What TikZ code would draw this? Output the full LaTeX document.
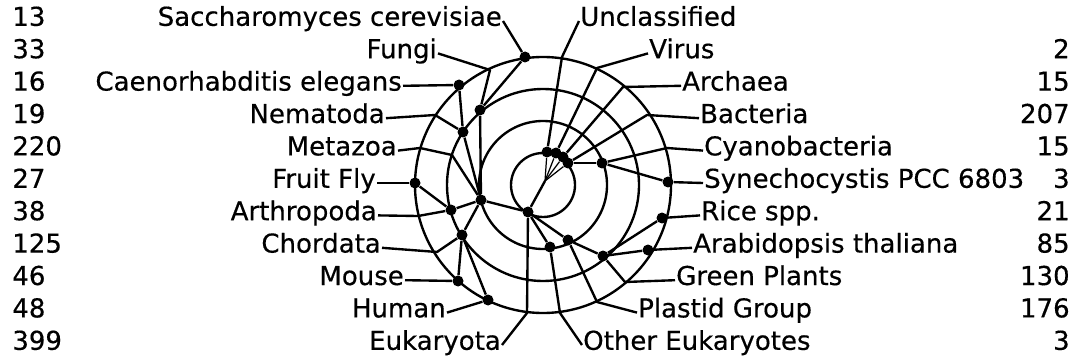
\documentclass[tikz,border=0pt]{standalone}
\usepackage{fontspec}
\setmainfont{DejaVu Sans}[FakeBold=0.4]
\usetikzlibrary{positioning,calc}

\begin{document}
\begin{tikzpicture}[
    x=0.02cm, y=-0.02cm,
    ring/.style={line width=1.35pt},
    link/.style={line width=1.35pt, line join=round},
    fan/.style={line width=0.7pt},
    taxon/.style={circle, fill, inner sep=0pt, minimum size=0.22cm},
    lbl/.style={inner sep=0.5pt, font=\fontsize{14.8}{16}\selectfont},
    cnt/.style={inner sep=0pt, font=\fontsize{14.8}{16}\selectfont}
  ]
  \useasboundingbox[fill=white] (0,0) rectangle (1077,361);

  % rings around the root
  \coordinate (C) at (543,185);
  \foreach \r in {32,64,96,128}
    \draw[ring] (C) circle[radius=\r];

  % taxa
  \coordinate (root) at (545,181);
  \node[taxon] (unc) at (547,152) {};
  \node[taxon] (vir) at (556,153) {};
  \node[taxon] (arc) at (563,157) {};
  \node[taxon] (bac) at (568,163) {};
  \node[taxon] (euk) at (528,212) {};
  \node[taxon] (met) at (481,200) {};
  \node[taxon] (oth) at (550,247) {};
  \node[taxon] (pla) at (568,240) {};
  \node[taxon] (fun) at (480,110) {};
  \node[taxon] (nem) at (463,132) {};
  \node[taxon] (art) at (451,210) {};
  \node[taxon] (cho) at (462,235) {};
  \node[taxon] (sac) at (525,57) {};
  \node[taxon] (ele) at (459,85) {};
  \node[taxon] (fly) at (415,183) {};
  \node[taxon] (mou) at (458,281) {};
  \node[taxon] (hum) at (488,300) {};
  \node[taxon] (cya) at (602,163) {};
  \node[taxon] (syn) at (668,182) {};
  \node[taxon] (gre) at (603,256) {};
  \node[taxon] (ric) at (662,218) {};
  \node[taxon] (ara) at (648,250) {};

  % names, left column
  \node[lbl, anchor=mid east] (lsac) at (503,21) {Saccharomyces cerevisiae};
  \node[lbl, anchor=mid east] (lfun) at (438,53.4) {Fungi};
  \node[lbl, anchor=mid east] (lele) at (403,85.8) {Caenorhabditis elegans};
  \node[lbl, anchor=mid east] (lnem) at (386,118.2) {Nematoda};
  \node[lbl, anchor=mid east] (lmet) at (398,150.6) {Metazoa};
  \node[lbl, anchor=mid east] (lfly) at (377,183) {Fruit Fly};
  \node[lbl, anchor=mid east] (lart) at (378,215.4) {Arthropoda};
  \node[lbl, anchor=mid east] (lcho) at (382,247.8) {Chordata};
  \node[lbl, anchor=mid east] (lmou) at (405,280.2) {Mouse};
  \node[lbl, anchor=mid east] (lhum) at (447,312.6) {Human};
  \node[lbl, anchor=mid east] (leuk) at (502,345) {Eukaryota};

  % names, right column
  \node[lbl, anchor=mid west] (lunc) at (579,21) {Unclassified};
  \node[lbl, anchor=mid west] (lvir) at (648,53.4) {Virus};
  \node[lbl, anchor=mid west] (larc) at (681,85.8) {Archaea};
  \node[lbl, anchor=mid west] (lbac) at (699,118.2) {Bacteria};
  \node[lbl, anchor=mid west] (lcya) at (703,150.6) {Cyanobacteria};
  \node[lbl, anchor=mid west] (lsyn) at (703,183) {Synechocystis PCC 6803};
  \node[lbl, anchor=mid west] (lric) at (700,215.4) {Rice spp.};
  \node[lbl, anchor=mid west] (lara) at (692,247.8) {Arabidopsis thaliana};
  \node[lbl, anchor=mid west] (lgre) at (675,280.2) {Green Plants};
  \node[lbl, anchor=mid west] (lpla) at (637,312.6) {Plastid Group};
  \node[lbl, anchor=mid west] (loth) at (582,345) {Other Eukaryotes};

  % counts
  \foreach \n [count=\i] in {13,33,16,19,220,27,38,125,46,48,399}
    \node[cnt, anchor=mid west] (cl\i) at (12,{21+32.4*(\i-1)}) {\n};
  \foreach \n [count=\i from 2] in {2,15,207,15,3,21,85,130,176,3}
    \node[cnt, anchor=mid east] (cr\i) at (1070,{21+32.4*(\i-1)}) {\n};

  % tree edges
  \draw[fan] (root) -- (unc);
  \draw[fan] (root) -- (vir);
  \draw[fan] (root) -- (arc);
  \draw[fan] (root) -- (bac);
  \draw[link] (root) -- (euk);
  \draw[link] (euk) -- (met);
  \draw[link] (euk) -- (oth);
  \draw[link] (euk) -- (pla);
  \draw[link] (met) -- (fun);
  \draw[link] (met) -- (nem);
  \draw[link] (met) -- (art);
  \draw[link] (met) -- (cho);
  \draw[link] (fun) -- (sac);
  \draw[link] (nem) -- (ele);
  \draw[link] (art) -- (fly);
  \draw[link] (cho) -- (mou);
  \draw[link] (cho) -- (hum);
  \draw[link] (bac) -- (cya);
  \draw[link] (cya) -- (syn);
  \draw[link] (pla) -- (gre);
  \draw[link] (gre) -- (ric);
  \draw[link] (gre) -- (ara);

  % leader lines to the names
  \draw[link] (sac) -- (lsac.mid east);
  \draw[link] (fun) -- (490,70) -- (lfun.mid east);
  \draw[link] (ele) -- (lele.mid east);
  \draw[link] (nem) -- (435,115) -- (lnem.mid east);
  \draw[link] (met) -- (452,155) -- (420,148) -- (lmet.mid east);
  \draw[link] (fly) -- (lfly.mid east);
  \draw[link] (art) -- (418,216) -- (lart.mid east);
  \draw[link] (cho) -- (437,252) -- (lcho.mid east);
  \draw[link] (mou) -- (lmou.mid east);
  \draw[link] (hum) -- (lhum.mid east);
  \draw[link] (euk) -- (527,313) -- (leuk.mid east);
  \draw[link] (unc) -- (562,57) -- (lunc.mid west);
  \draw[link] (vir) -- (597,68) -- (lvir.mid west);
  \draw[link] (arc) -- (623,87) -- (larc.mid west);
  \draw[link] (bac) -- (647,115) -- (lbac.mid west);
  \draw[link] (cya) -- (667,148) -- (lcya.mid west);
  \draw[link] (syn) -- (lsyn.mid west);
  \draw[link] (ric) -- (lric.mid west);
  \draw[link] (ara) -- (lara.mid west);
  \draw[link] (gre) -- (625,282) -- (lgre.mid west);
  \draw[link] (pla) -- (597,302) -- (lpla.mid west);
  \draw[link] (oth) -- (560,313) -- (loth.mid west);
\end{tikzpicture}
\end{document}
